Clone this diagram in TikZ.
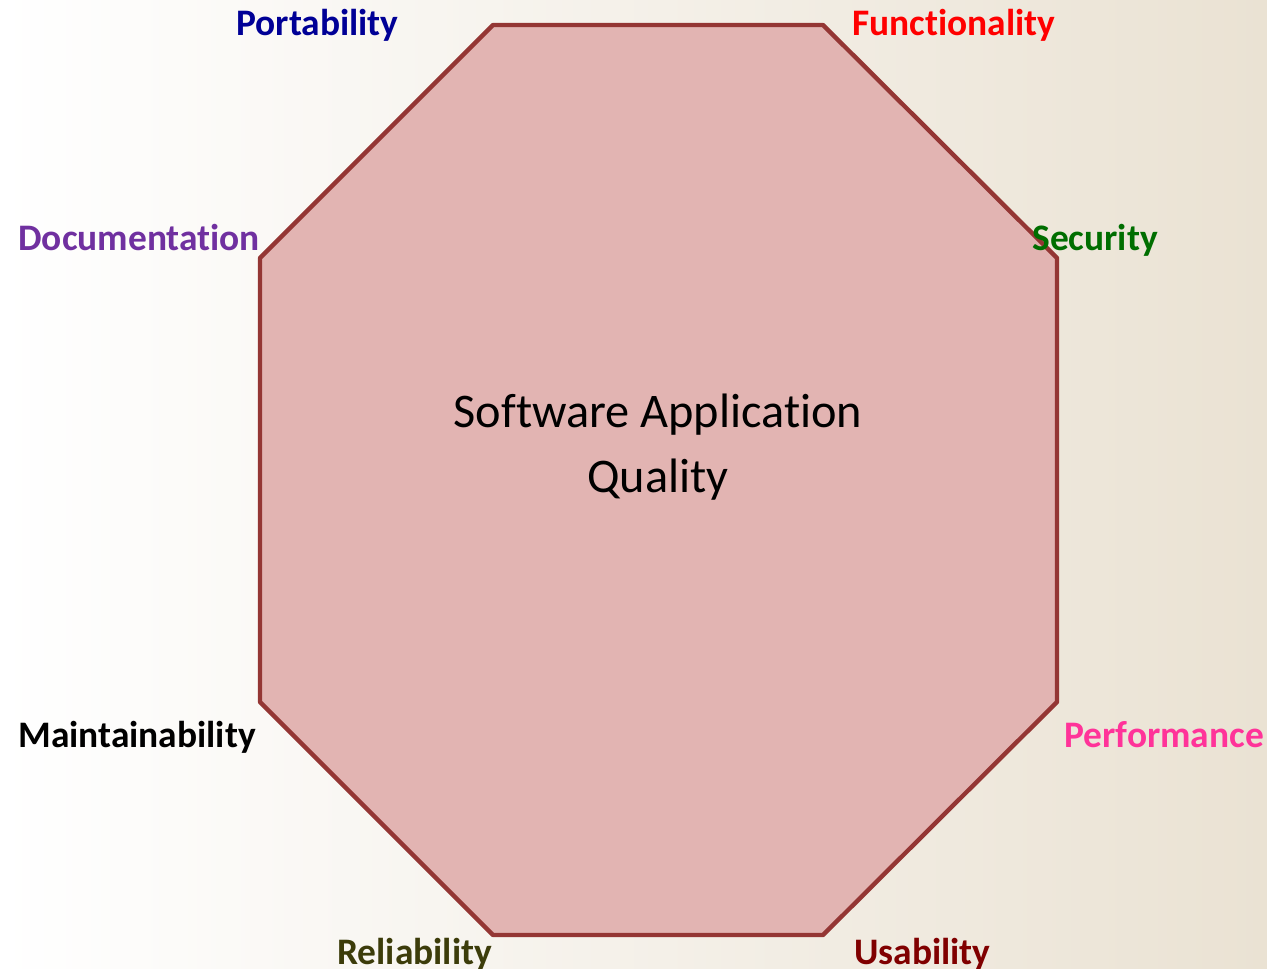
\documentclass[tikz,border=0pt]{standalone}
\usepackage{fontspec}
\setmainfont[Ligatures=NoCommon]{Carlito}
\usetikzlibrary{positioning}

\definecolor{octfill}{RGB}{226,180,178}
\definecolor{octline}{RGB}{148,54,52}
\definecolor{bgright}{RGB}{234,226,211}
\definecolor{cportab}{RGB}{0,0,150}
\definecolor{cfunc}{RGB}{255,0,0}
\definecolor{cdoc}{RGB}{112,48,160}
\definecolor{csec}{RGB}{0,110,0}
\definecolor{cmaint}{RGB}{0,0,0}
\definecolor{cperf}{RGB}{255,51,153}
\definecolor{crel}{RGB}{60,60,10}
\definecolor{cusab}{RGB}{128,0,0}

\tikzset{
    quality/.style={anchor=base west, inner sep=0pt, font=\fontsize{21.3}{26}\selectfont\bfseries},
    centre/.style={align=center, font=\fontsize{27.5}{37}\selectfont}
}

\begin{document}
\begin{tikzpicture}[x=0.02cm, y=-0.02cm]
    % Background
    \shade [left color=white, right color=bgright] (0,0) rectangle (1267,969);
    \useasboundingbox (0,0) rectangle (1267,969);

    % Octagon
    \draw [fill=octfill, draw=octline, line width=2.5pt, line join=round]
        (493,25) -- (823,25) -- (1057,258) -- (1057,702)
        -- (823,935) -- (493,935) -- (260,702) -- (260,258) -- cycle;
    \node [centre] (app) at (658,447) {Software Application\\Quality};

    % Qualities
    \node [quality, text=cportab] (portab) at (236,36) {Portability};
    \node [quality, text=cfunc] (func) at (852,36) {Functionality};
    \node [quality, text=cdoc] (doc) at (18,251) {Documentation};
    \node [quality, text=csec] (sec) at (1032,251) {Security};
    \node [quality, text=cmaint] (maint) at (18,747) {Maintainability};
    \node [quality, text=cperf] (perf) at (1064,747) {Performance};
    \node [quality, text=crel] (rel) at (337,964) {Reliability};
    \node [quality, text=cusab] (usab) at (854,964) {Usability};
\end{tikzpicture}
\end{document}
